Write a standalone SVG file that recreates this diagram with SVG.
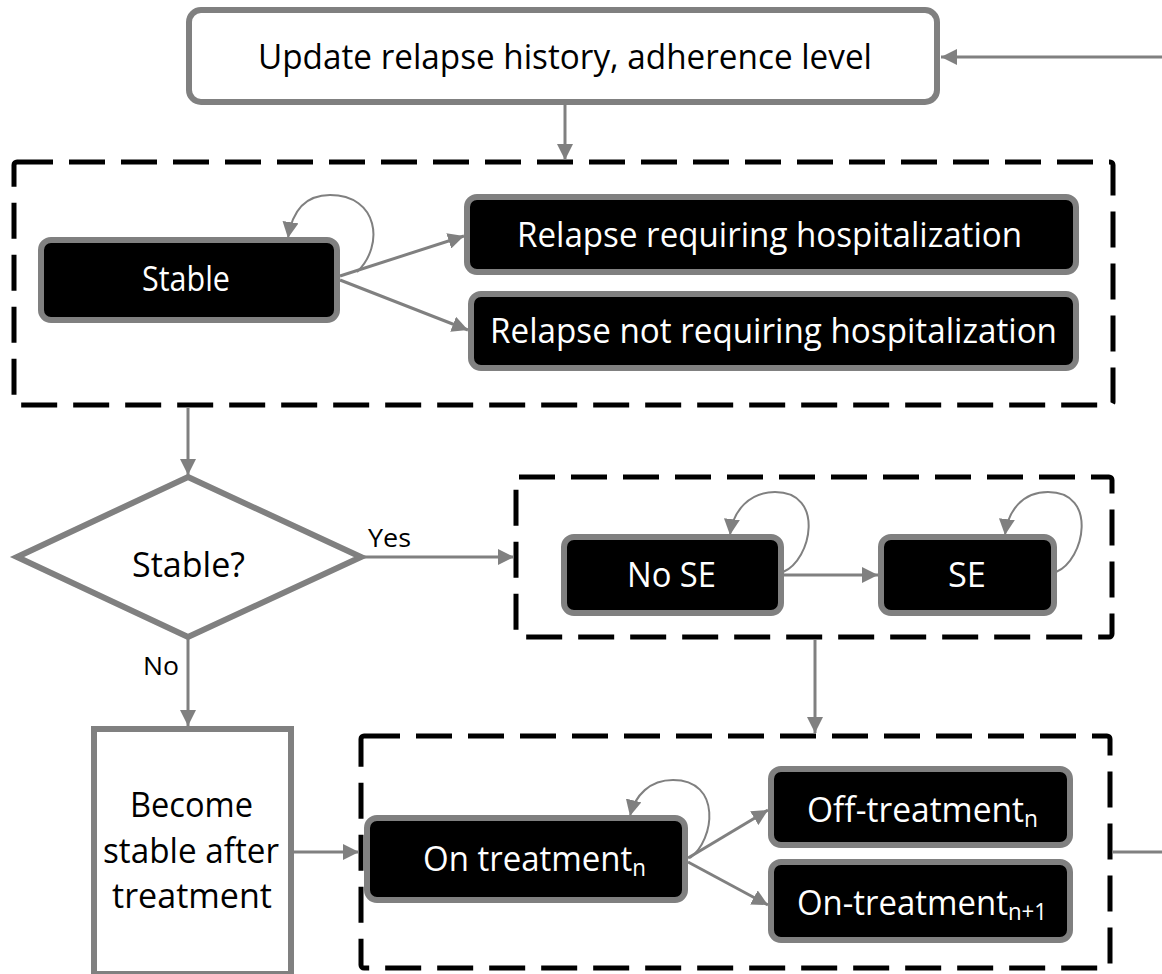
<svg xmlns="http://www.w3.org/2000/svg" width="1162" height="974" viewBox="0 0 1162 974">
<style>
.txt{font-family:"Open Sans","Liberation Sans",sans-serif;font-size:34px;fill:#000}
.sub{font-size:23px}
.wt{fill:#fff}
.lbl{font-family:"Open Sans","Liberation Sans",sans-serif;font-size:25px;fill:#000}
.state{fill:#000;stroke:#808080;stroke-width:6}
.wbox{fill:#fff;stroke:#808080;stroke-width:6}
.group{fill:none;stroke:#000;stroke-width:5;stroke-dasharray:36 16}
.conn{fill:none;stroke:#808080;stroke-width:3;marker-end:url(#ah)}
.loop{fill:none;stroke:#808080;stroke-width:2;marker-end:url(#ah)}
.plain{fill:none;stroke:#808080;stroke-width:3}
</style>
<defs>
<marker id="ah" viewBox="0 0 10 10" refX="10" refY="5" markerWidth="16" markerHeight="16" markerUnits="userSpaceOnUse" orient="auto">
<path d="M0,0 L10,5 L0,10 z" fill="#808080"/>
</marker>
</defs>
<rect width="1162" height="974" fill="#fff"/>
<g id="groups">
<rect id="grp-relapse" class="group" x="14" y="162" width="1099" height="243" rx="3"/>
<rect id="grp-se" class="group" x="516" y="477" width="596" height="160" rx="3"/>
<rect id="grp-treat" class="group" x="361" y="736" width="749" height="232" rx="3"/>
</g>
<g id="connectors">
<line class="conn" x1="1162" y1="57" x2="941" y2="57"/>
<line class="conn" x1="565" y1="105" x2="565" y2="160"/>
<path class="loop" d="M357,272 C385,245 378,195 330,195 C305,195 292,212 288,238"/>
<line class="conn" x1="340" y1="276" x2="464" y2="236"/>
<line class="conn" x1="340" y1="280" x2="468" y2="330"/>
<line class="conn" x1="188" y1="407" x2="188" y2="475"/>
<line class="conn" x1="362" y1="557" x2="514" y2="557"/>
<line class="conn" x1="188" y1="639" x2="188" y2="726"/>
<path class="loop" d="M783,572 C812,560 825,492 775,492 C750,492 733,510 730,535"/>
<line class="conn" x1="783" y1="575" x2="878" y2="575"/>
<path class="loop" d="M1056,572 C1085,560 1098,492 1048,492 C1023,492 1008,510 1005,535"/>
<line class="conn" x1="815" y1="640" x2="815" y2="733"/>
<line class="conn" x1="292" y1="852" x2="359" y2="852"/>
<path class="loop" d="M690,858 C715,840 722,780 673,780 C650,780 635,795 630,816"/>
<line class="conn" x1="688" y1="858" x2="768" y2="810"/>
<line class="conn" x1="688" y1="862" x2="768" y2="905"/>
<line class="plain" x1="1112" y1="852" x2="1162" y2="852"/>
</g>
<g id="update">
<rect class="wbox" x="189" y="10" width="748" height="92" rx="12"/>
<text class="txt" x="258" y="69" textLength="614" lengthAdjust="spacingAndGlyphs">Update relapse history, adherence level</text>
</g>
<g id="stable">
<rect class="state" x="41" y="240" width="296" height="80" rx="10"/>
<text class="txt wt" x="142" y="291" textLength="88" lengthAdjust="spacingAndGlyphs">Stable</text>
</g>
<g id="relapse-hosp">
<rect class="state" x="467" y="197" width="609" height="75" rx="10"/>
<text class="txt wt" x="517" y="247" textLength="505" lengthAdjust="spacingAndGlyphs">Relapse requiring hospitalization</text>
</g>
<g id="relapse-nohosp">
<rect class="state" x="471" y="294" width="605" height="74" rx="10"/>
<text class="txt wt" x="490" y="343" textLength="567" lengthAdjust="spacingAndGlyphs">Relapse not requiring hospitalization</text>
</g>
<g id="decision">
<polygon points="188,477 361,557 188,637 17,557" fill="#fff" stroke="#808080" stroke-width="6" stroke-linejoin="miter"/>
<text class="txt" x="132" y="577" textLength="113" lengthAdjust="spacingAndGlyphs">Stable?</text>
<text class="lbl" x="368" y="547" textLength="43" lengthAdjust="spacingAndGlyphs">Yes</text>
<text class="lbl" x="143" y="675" textLength="36" lengthAdjust="spacingAndGlyphs">No</text>
</g>
<g id="no-se">
<rect class="state" x="564" y="537" width="217" height="76" rx="10"/>
<text class="txt wt" x="627" y="587" textLength="89" lengthAdjust="spacingAndGlyphs">No SE</text>
</g>
<g id="se">
<rect class="state" x="881" y="537" width="173" height="76" rx="10"/>
<text class="txt wt" x="948" y="587" textLength="38" lengthAdjust="spacingAndGlyphs">SE</text>
</g>
<g id="become">
<rect class="wbox" x="94" y="729" width="197" height="245"/>
<text class="txt" x="130" y="817" textLength="123" lengthAdjust="spacingAndGlyphs">Become</text>
<text class="txt" x="103" y="863" textLength="176" lengthAdjust="spacingAndGlyphs">stable after</text>
<text class="txt" x="112" y="908" textLength="160" lengthAdjust="spacingAndGlyphs">treatment</text>
</g>
<g id="on-treat">
<rect class="state" x="367" y="818" width="318" height="82" rx="10"/>
<text class="txt wt" x="423" y="871" textLength="223" lengthAdjust="spacingAndGlyphs">On treatment<tspan class="sub" dy="5">n</tspan></text>
</g>
<g id="off-treat">
<rect class="state" x="771" y="769" width="299" height="76" rx="10"/>
<text class="txt wt" x="807" y="822" textLength="231" lengthAdjust="spacingAndGlyphs">Off-treatment<tspan class="sub" dy="5">n</tspan></text>
</g>
<g id="on-treat-next">
<rect class="state" x="771" y="862" width="299" height="78" rx="10"/>
<text class="txt wt" x="797" y="915" textLength="250" lengthAdjust="spacingAndGlyphs">On-treatment<tspan class="sub" dy="5">n+1</tspan></text>
</g>
</svg>
